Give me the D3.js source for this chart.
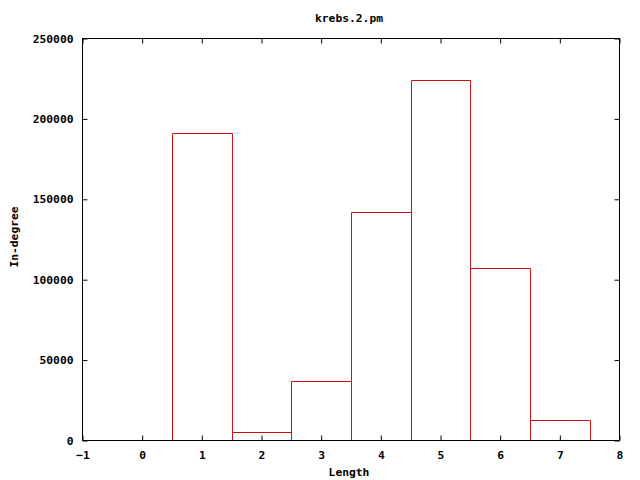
<!DOCTYPE html>
<html>
<head>
<meta charset="utf-8">
<script src="https://cdn.jsdelivr.net/npm/d3@7"></script>
<style>
  body { margin: 0; background: #fff; }
  text { font-family: "DejaVu Sans Mono", monospace; font-weight: bold; font-size: 11.3px; fill: #000; }
</style>
</head>
<body>
<div id="container"></div>
<script>
/* CONSTANTS AND GLOBALS */
const width = 640,
      height = 480,
      margin = {top: 38.5, right: 20.5, bottom: 39.5, left: 82.5};

// DATA
const lengths = [1, 2, 3, 4, 5, 6, 7]
const inDegree = [191300, 5500, 37300, 141800, 224300, 107400, 12900]
const xTicks = [-1, 0, 1, 2, 3, 4, 5, 6, 7, 8]
const yTicks = [0, 50000, 100000, 150000, 200000, 250000]

const data = lengths.map((d, i) => ({length: d, value: inDegree[i]}))

// SCALES
const xScale = d3.scaleLinear()
  .domain([-1, 8])
  .range([margin.left, width - margin.right])

const yScale = d3.scaleLinear()
  .domain([0, 250000])
  .range([height - margin.bottom, margin.top])

// CREATE SVG ELEMENT
const svg = d3.select("#container")
  .append("svg")
  .attr("width", width)
  .attr("height", height)

// BARS (outline only, gnuplot boxes style) - open at the bottom
svg.selectAll("path.bar")
  .data(data)
  .join("path")
  .attr("class", "bar")
  .attr("d", d => {
    const x0 = Math.round(xScale(d.length - 0.5)) + 0.5,
          x1 = Math.round(xScale(d.length + 0.5)) + 0.5,
          y0 = yScale(0),
          y1 = Math.round(yScale(d.value)) + 0.5
    return `M${x0},${y0}V${y1}H${x1}V${y0}`
  })
  .attr("fill", "none")
  .attr("stroke", "#d01010")
  .attr("stroke-width", 1)

// AXES (ticks inward, mirrored on all sides)
const tickLen = 5

svg.append("g")
  .attr("class", "xAxis")
  .attr("transform", `translate(0, ${height - margin.bottom})`)
  .call(d3.axisBottom(xScale).tickValues(xTicks).tickFormat(d3.format("d")).tickSizeInner(-tickLen).tickSizeOuter(0).tickPadding(10))
  .call(g => g.select(".domain").remove())

svg.append("g")
  .attr("class", "xAxisTop")
  .attr("transform", `translate(0, ${margin.top})`)
  .call(d3.axisTop(xScale).tickValues(xTicks).tickFormat("").tickSizeInner(-tickLen).tickSizeOuter(0))
  .call(g => g.select(".domain").remove())

svg.append("g")
  .attr("class", "yAxis")
  .attr("transform", `translate(${margin.left}, 0)`)
  .call(d3.axisLeft(yScale).tickValues(yTicks).tickFormat(d3.format("d")).tickSizeInner(-tickLen).tickSizeOuter(0).tickPadding(9))
  .call(g => g.select(".domain").remove())

svg.append("g")
  .attr("class", "yAxisRight")
  .attr("transform", `translate(${width - margin.right}, 0)`)
  .call(d3.axisRight(yScale).tickValues(yTicks).tickFormat("").tickSizeInner(-tickLen).tickSizeOuter(0))
  .call(g => g.select(".domain").remove())

svg.selectAll(".tick line").attr("stroke", "#000")
svg.selectAll(".tick text").style("font-family", "DejaVu Sans Mono, monospace").style("font-weight", "bold").style("font-size", "11.3px")

// BORDER
svg.append("rect")
  .attr("x", margin.left)
  .attr("y", margin.top)
  .attr("width", width - margin.right - margin.left)
  .attr("height", height - margin.bottom - margin.top)
  .attr("fill", "none")
  .attr("stroke", "#000")

// LABELS
svg.append("text")
  .attr("x", 349)
  .attr("y", 22)
  .style("text-anchor", "middle")
  .text("krebs.2.pm")

svg.append("text")
  .attr("x", 349)
  .attr("y", 476)
  .style("text-anchor", "middle")
  .text("Length")

svg.append("text")
  .attr("transform", "translate(18, 237) rotate(-90)")
  .style("text-anchor", "middle")
  .text("In-degree")
</script>
</body>
</html>
